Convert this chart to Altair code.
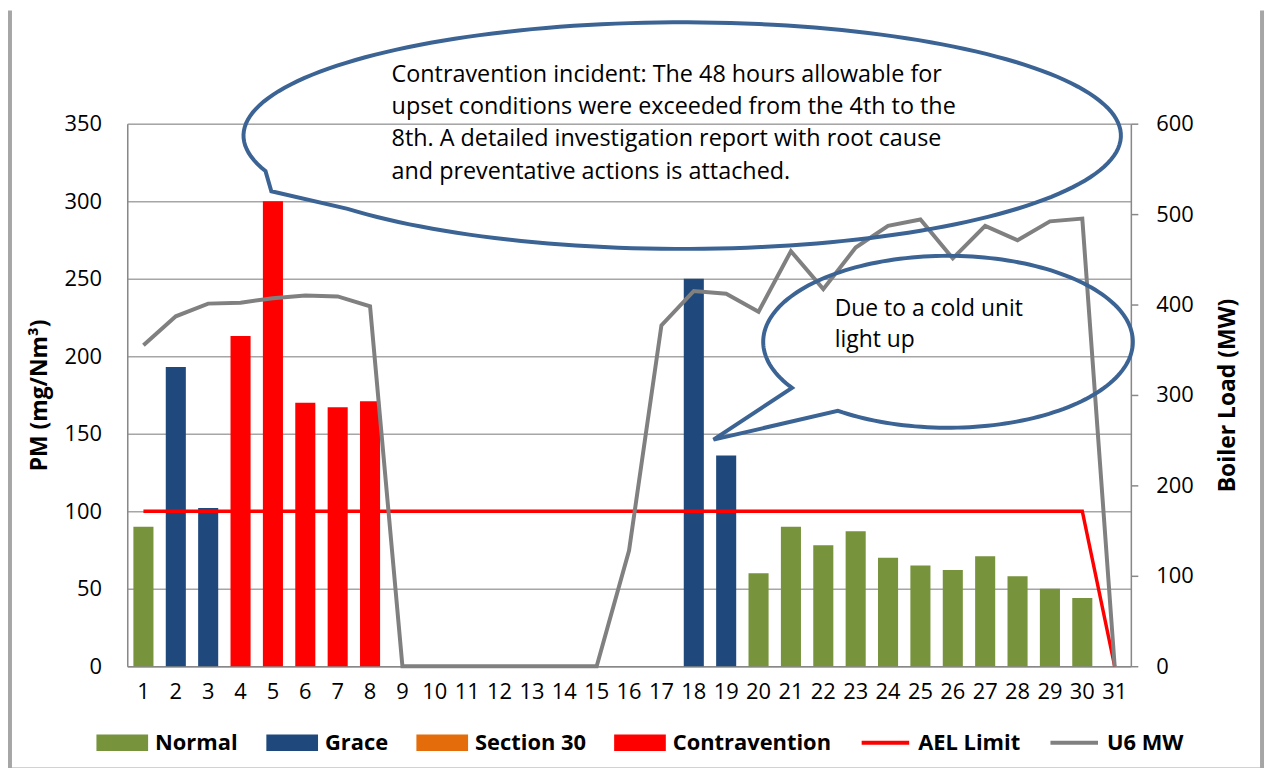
import math
import altair as alt
import pandas as pd

# ---------------- data ----------------
days = [str(d) for d in range(1, 32)]

bar_days = ["1", "2", "3", "4", "5", "6", "7", "8",
            "18", "19", "20", "21", "22", "23", "24", "25", "26", "27", "28", "29", "30"]
bar_pm = [90, 193, 102, 213, 300, 170, 167, 171,
          250, 136, 60, 90, 78, 87, 70, 65, 62, 71, 58, 50, 44]
bar_status = ["Normal", "Grace", "Grace", "Contravention", "Contravention", "Contravention",
              "Contravention", "Contravention",
              "Grace", "Grace", "Normal", "Normal", "Normal", "Normal", "Normal", "Normal",
              "Normal", "Normal", "Normal", "Normal", "Normal"]

ael_limit = [100, 100, 100, 100, 100, 100, 100, 100, 100, 100,
             100, 100, 100, 100, 100, 100, 100, 100, 100, 100,
             100, 100, 100, 100, 100, 100, 100, 100, 100, 100, 0]

u6_mw = [355, 387, 401, 402, 407, 410, 409, 398, 0, 0,
         0, 0, 0, 0, 0, 128, 377, 415, 412, 392,
         459, 417, 463, 487, 494, 451, 487, 471, 492, 495, 0]

series = ["Normal", "Grace", "Section 30", "Contravention", "AEL Limit", "U6 MW"]
series_colors = ["#77933C", "#1F497D", "#E46C0A", "#FF0000", "#FF0000", "#808080"]

note_big = ["Contravention incident: The 48 hours allowable for",
            "upset conditions were exceeded from the 4th to the",
            "8th. A detailed investigation report with root cause",
            "and preventative actions is attached."]
note_small = ["Due to a cold unit", "light up"]

FONT = "Open Sans"

bars_df = pd.DataFrame({"day": bar_days, "pm": bar_pm, "status": bar_status})
ael_df = pd.DataFrame({"day": days, "ael": ael_limit})
mw_df = pd.DataFrame({"day": days, "mw": u6_mw})
leg_df = pd.DataFrame({"series": series})
one = pd.DataFrame({"k": [0]})

x_enc = alt.X("day:O", sort=days,
              scale=alt.Scale(domain=days, paddingInner=0.38, paddingOuter=0.19),
              axis=alt.Axis(title=None, labelAngle=0, ticks=False, tickSize=0,
                            labelPadding=25, labelBaseline="middle",
                            labelFontSize=22, labelColor="black", labelFont=FONT,
                            domainColor="#888888", domainWidth=1.5, grid=False))

bars = alt.Chart(bars_df).mark_bar().encode(
    x=x_enc,
    y=alt.Y("pm:Q", scale=alt.Scale(domain=[0, 350], nice=False),
            axis=alt.Axis(values=[0, 50, 100, 150, 200, 250, 300, 350],
                          title="PM (mg/Nm³)", titleFontSize=23, titleFontWeight="bold",
                          titleFont=FONT, titleColor="black",
                          titleX=-88, titleY=273, titleAngle=270,
                          titleAlign="center", titleBaseline="middle",
                          grid=True, gridColor="#A6A6A6", gridWidth=1.5,
                          ticks=False, tickSize=0, labelPadding=26,
                          labelFontSize=22, labelColor="black", labelFont=FONT,
                          domainColor="#888888", domainWidth=1.5)),
    color=alt.Color("status:N", scale=alt.Scale(domain=series, range=series_colors),
                    legend=None),
)

ael = alt.Chart(ael_df).mark_line(color="#FF0000", strokeWidth=3.5).encode(
    x=alt.X("day:O", sort=days),
    y=alt.Y("ael:Q", scale=alt.Scale(domain=[0, 350], nice=False), axis=None),
)

mw = alt.Chart(mw_df).mark_line(color="#808080", strokeWidth=4).encode(
    x=alt.X("day:O", sort=days),
    y=alt.Y("mw:Q", scale=alt.Scale(domain=[0, 600], nice=False),
            axis=alt.Axis(orient="right", values=[0, 100, 200, 300, 400, 500, 600],
                          title="Boiler Load (MW)", titleFontSize=23, titleFontWeight="bold",
                          titleFont=FONT, titleColor="black",
                          titleX=97, titleY=273, titleAngle=270,
                          titleAlign="center", titleBaseline="middle",
                          grid=False, tickSize=7, tickColor="#888888", tickWidth=1.5,
                          labelPadding=18, labelFontSize=22, labelColor="black",
                          labelFont=FONT, domainColor="#888888", domainWidth=1.5)),
)


# ---------------- callout bubbles ----------------
def bubble_path(cx, cy, rx, ry, t1, t2, tip, R):
    pts = []
    n = 180
    for i in range(n + 1):
        t = math.radians(t1 + (t2 - t1) * i / n)
        pts.append((rx * math.cos(t) / R, ry * math.sin(t) / R))
    pts.append(((tip[0] - cx) / R, (tip[1] - cy) / R))
    return "M" + "L".join(f"{a:.4f},{b:.4f}" for a, b in pts) + "Z"


X0, Y0 = 128, 122  # plot origin on the page
BLUE = "#3B6394"

big_c = (686.5, 134.0)
big_path = bubble_path(big_c[0], big_c[1], 441.5, 114.0, 161.8, 499.7, (273, 190), 500)
small_c = (954.0, 341.5)
small_path = bubble_path(small_c[0], small_c[1], 186.0, 86.5, 147.6, 486.6, (718, 440), 200)

bubble_big = alt.Chart(one).mark_point(
    shape=big_path, filled=False, stroke=BLUE, strokeWidth=4, size=1000000, opacity=1
).encode(x=alt.value(big_c[0] - X0), y=alt.value(big_c[1] - Y0))

bubble_small = alt.Chart(one).mark_point(
    shape=small_path, filled=False, stroke=BLUE, strokeWidth=4, size=160000, opacity=1
).encode(x=alt.value(small_c[0] - X0), y=alt.value(small_c[1] - Y0))

text_big = alt.Chart(one).mark_text(
    text=note_big, align="left", baseline="alphabetic", fontSize=23.5, font=FONT,
    lineHeight=32.4, color="black"
).encode(x=alt.value(394 - X0), y=alt.value(80 - Y0))

text_small = alt.Chart(one).mark_text(
    text=note_small, align="left", baseline="alphabetic", fontSize=23, font=FONT,
    lineHeight=31, color="black"
).encode(x=alt.value(840 - X0), y=alt.value(316 - Y0))

# ---------------- frame ----------------
FRAME = "#A6A6A6"
frame_left = alt.Chart(one).mark_rule(color=FRAME, strokeWidth=4).encode(
    x=alt.value(10 - X0), y=alt.value(-114), y2=alt.value(772 - Y0))
frame_right = alt.Chart(one).mark_rule(color=FRAME, strokeWidth=4).encode(
    x=alt.value(1270 - X0), y=alt.value(-114), y2=alt.value(772 - Y0))
frame_bottom = alt.Chart(one).mark_rule(color=FRAME, strokeWidth=4).encode(
    x=alt.value(10 - X0), x2=alt.value(1270 - X0), y=alt.value(772 - Y0))

# ---------------- legend ----------------
RECT = "M-1,-0.32L1,-0.32L1,0.32L-1,0.32Z"
LINE = "M-0.92,-0.08L0.92,-0.08L0.92,0.08L-0.92,0.08Z"
shapes = [RECT, RECT, RECT, RECT, LINE, LINE]

legend_def = alt.Legend(orient="none", legendX=97 - X0, legendY=719 - Y0,
                        direction="horizontal", title=None,
                        labelFontSize=22, labelFontWeight="bold", labelFont=FONT,
                        labelColor="black", labelLimit=400, labelOffset=7,
                        columnPadding=28, symbolSize=2704, symbolStrokeWidth=0,
                        symbolOpacity=1)

legend_layer = alt.Chart(leg_df).mark_point(filled=True, opacity=0).encode(
    x=alt.value(0), y=alt.value(0),
    color=alt.Color("series:N", scale=alt.Scale(domain=series, range=series_colors),
                    legend=legend_def, sort=series),
    shape=alt.Shape("series:N", scale=alt.Scale(domain=series, range=shapes),
                    legend=legend_def, sort=series),
)

chart = alt.layer(
    bars, ael, mw, bubble_big, bubble_small, text_big, text_small,
    frame_left, frame_right, frame_bottom, legend_layer
).resolve_scale(
    y="independent", color="independent", shape="independent"
).resolve_legend(
    color="independent", shape="independent"
).properties(
    width=1010, height=546,
    padding={"left": 120, "top": 114, "right": 136, "bottom": 100},
    autosize=alt.AutoSizeParams(type="none"),
).configure_view(stroke=None).configure(font=FONT, background="white")

chart.save("out.html", embed_options={"renderer": "svg", "actions": False})
